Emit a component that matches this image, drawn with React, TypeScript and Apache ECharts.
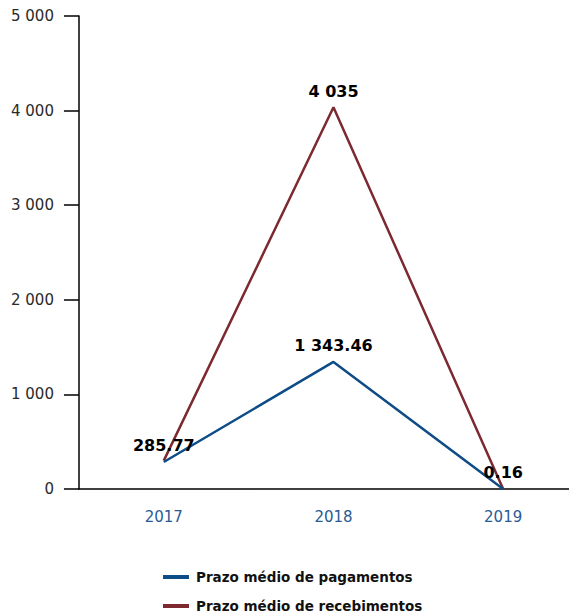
import React, { useEffect, useRef } from "react";
import * as echarts from "echarts";

const categories = ["2017", "2018", "2019"];
const pagamentos = [285.77, 1343.46, 0.16];
const recebimentos = [300, 4035, 0];
const recebimentosLabeled = [false, true, false];
const seriesNames = ["Prazo médio de pagamentos", "Prazo médio de recebimentos"];

const fmt = (v: number) => {
  const [i, d] = String(v).split(".");
  const ii = i.replace(/\B(?=(\d{3})+(?!\d))/g, " ");
  return d ? ii + "." + d : ii;
};

export default function App() {
  const ref = useRef<HTMLDivElement>(null);
  useEffect(() => {
    const chart = echarts.init(ref.current!, undefined, { renderer: "svg" });
    const labelStyle = {
      show: true,
      position: "top",
      distance: 8,
      color: "#000",
      fontFamily: "DejaVu Sans",
      fontWeight: "bold",
      fontSize: 16,
      formatter: (p: any) => fmt(p.value),
    };
    chart.setOption({
      animation: false,
      grid: { left: 70, right: 0, top: 8, bottom: 124, containLabel: false },
      legend: {
        orient: "vertical",
        left: 150,
        top: 557,
        height: 60,
        itemGap: 15,
        itemWidth: 26,
        itemHeight: 4,
        icon: "rect",
        textStyle: {
          fontFamily: "DejaVu Sans",
          fontWeight: "bold",
          fontSize: 13.5,
          color: "#111",
          padding: [0, 0, 0, 2],
        },
        data: seriesNames,
      },
      xAxis: {
        type: "category",
        data: categories,
        boundaryGap: true,
        axisLine: { lineStyle: { color: "#000", width: 1.5 } },
        axisTick: { show: false },
        axisLabel: {
          color: "#2a5b93",
          fontFamily: "DejaVu Sans",
          fontSize: 15,
          margin: 20,
        },
      },
      yAxis: {
        type: "value",
        min: 0,
        max: 5000,
        interval: 1000,
        splitLine: { show: false },
        axisLine: { show: true, lineStyle: { color: "#000", width: 1.5 } },
        axisTick: { show: true, length: 15, lineStyle: { color: "#000", width: 1.5 } },
        axisLabel: {
          color: "#2a2a2a",
          fontFamily: "DejaVu Sans",
          fontSize: 15,
          margin: 25,
          formatter: (v: number) => fmt(v),
        },
      },
      series: [
        {
          name: seriesNames[0],
          type: "line",
          data: pagamentos,
          showSymbol: true,
          symbol: "circle",
          symbolSize: 0,
          lineStyle: { color: "#0d4c87", width: 2.5 },
          itemStyle: { color: "#0d4c87" },
          label: labelStyle,
          z: 3,
        },
        {
          name: seriesNames[1],
          type: "line",
          data: recebimentos.map((v, i) => ({
            value: v,
            label: { show: recebimentosLabeled[i] },
          })),
          showSymbol: true,
          symbol: "circle",
          symbolSize: 0,
          lineStyle: { color: "#7c2a30", width: 2.5 },
          itemStyle: { color: "#7c2a30" },
          label: labelStyle,
          z: 2,
        },
      ],
    });
    return () => chart.dispose();
  }, []);
  return (
    <div style={{ width: 569, height: 605, overflow: "hidden" }}>
      <div ref={ref} style={{ width: 580, height: 605 }} />
    </div>
  );
}
